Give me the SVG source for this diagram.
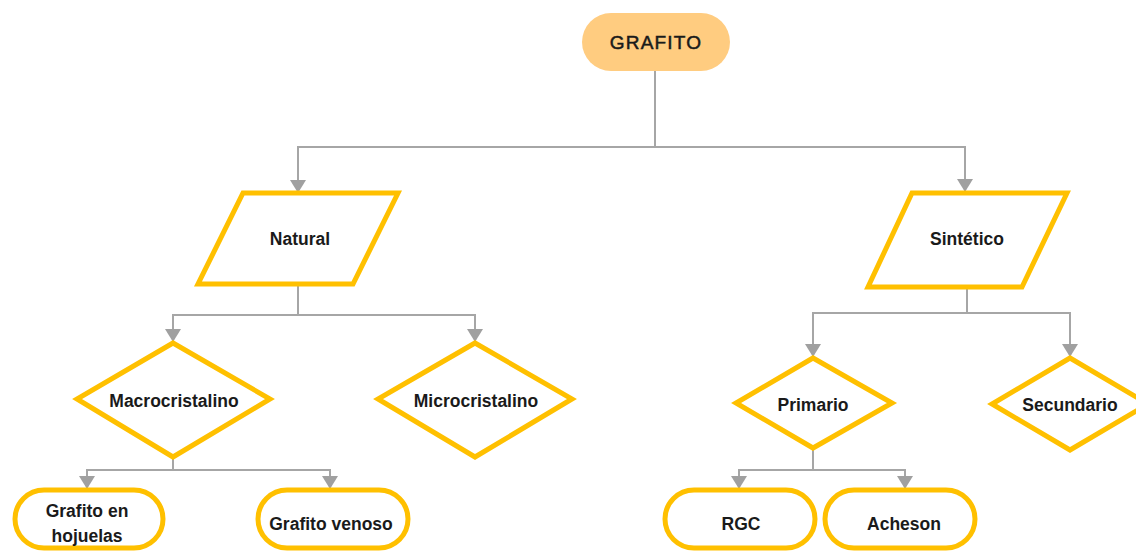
<svg xmlns="http://www.w3.org/2000/svg" width="1136" height="551" viewBox="0 0 1136 551">
<style>
.shape{fill:#FFFFFF;stroke:#FFC000;stroke-width:5;stroke-linejoin:miter}
.lbl{font-family:"Liberation Sans",Arial,sans-serif;font-weight:bold;font-size:17.5px;fill:#1a1a1a;text-anchor:middle}
.conn{fill:none;stroke:#A6A6A6;stroke-width:2;marker-end:url(#arr)}
</style>
<defs>
<marker id="arr" markerUnits="userSpaceOnUse" markerWidth="13" markerHeight="16" viewBox="0 0 13 16" refX="13" refY="8" orient="auto">
<path d="M0,0 L13,8 L0,16 z" fill="#A0A0A0"/>
</marker>
</defs>
<rect width="1136" height="551" fill="#FFFFFF"/>
<g id="connectors">
<path class="conn" d="M655,71 V147 H298 V193"/>
<path class="conn" d="M655,147 H965 V192"/>
<path class="conn" d="M298,284 V315 H173 V342"/>
<path class="conn" d="M298,315 H475 V342"/>
<path class="conn" d="M967,287 V313 H813 V357"/>
<path class="conn" d="M967,313 H1070 V357"/>
<path class="conn" d="M173,457 V470 H87 V489"/>
<path class="conn" d="M173,470 H330 V489"/>
<path class="conn" d="M813,448 V470 H739 V489"/>
<path class="conn" d="M813,470 H905 V489"/>
</g>
<g id="grafito">
<rect x="582" y="13" width="148" height="58" rx="29" fill="#FFCC80"/>
<text x="656" y="48.5" font-family="'Liberation Sans',Arial,sans-serif" font-size="19" letter-spacing="1.2" text-anchor="middle" fill="#1a1a1a" stroke="#1a1a1a" stroke-width="0.5">GRAFITO</text>
</g>
<g id="natural">
<polygon class="shape" points="243,193 398,193 353,284 198,284"/>
<text class="lbl" x="300" y="245">Natural</text>
</g>
<g id="sintetico">
<polygon class="shape" points="912,193 1067,193 1022,287 868,287"/>
<text class="lbl" x="967" y="245">Sintético</text>
</g>
<g id="macrocristalino">
<polygon class="shape" points="173,343 270,399 173,457 77,399"/>
<text class="lbl" x="174" y="407">Macrocristalino</text>
</g>
<g id="microcristalino">
<polygon class="shape" points="475,343 572,399 475,457 378,399"/>
<text class="lbl" x="476" y="407">Microcristalino</text>
</g>
<g id="primario">
<polygon class="shape" points="813,358 892,403 813,448 736,403"/>
<text class="lbl" x="813" y="411">Primario</text>
</g>
<g id="secundario">
<polygon class="shape" points="1070,358 1148,404 1070,450 992,404"/>
<text class="lbl" x="1070" y="411">Secundario</text>
</g>
<g id="hojuelas">
<rect class="shape" x="15" y="490" width="148" height="58" rx="29"/>
<text class="lbl" x="87" y="517">Grafito en</text>
<text class="lbl" x="87" y="542">hojuelas</text>
</g>
<g id="venoso">
<rect class="shape" x="258" y="490" width="150" height="58" rx="29"/>
<text class="lbl" x="331" y="530">Grafito venoso</text>
</g>
<g id="rgc">
<rect class="shape" x="665" y="490" width="150" height="58" rx="29"/>
<text class="lbl" x="741" y="530">RGC</text>
</g>
<g id="acheson">
<rect class="shape" x="825" y="490" width="150" height="58" rx="29"/>
<text class="lbl" x="904" y="530">Acheson</text>
</g>
</svg>
